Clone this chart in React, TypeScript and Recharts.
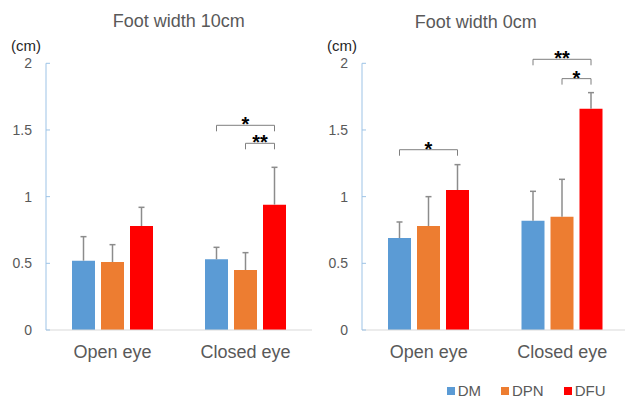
import React from 'react';
import { BarChart, Bar, XAxis, YAxis, Legend, LabelList } from 'recharts';

// ---------- data ----------
const categories = ['Open eye', 'Closed eye'];
const seriesNames = ['DM', 'DPN', 'DFU'];
const seriesColors = ['#5B9BD5', '#ED7D31', '#FF0000'];
const yTicks = [0, 0.5, 1, 1.5, 2];

// Foot width 10cm
const w10DM = [0.52, 0.53];
const w10DMsd = [0.18, 0.09];
const w10DPN = [0.51, 0.45];
const w10DPNsd = [0.13, 0.13];
const w10DFU = [0.78, 0.94];
const w10DFUsd = [0.14, 0.28];

// Foot width 0cm
const w0DM = [0.69, 0.82];
const w0DMsd = [0.12, 0.22];
const w0DPN = [0.78, 0.85];
const w0DPNsd = [0.22, 0.28];
const w0DFU = [1.05, 1.66];
const w0DFUsd = [0.19, 0.12];

// significance brackets: category index, from series, to series, level (cm), mark
const w10Sig = [
  { cat: 1, from: 0, to: 2, level: 1.535, mark: '*' },
  { cat: 1, from: 1, to: 2, level: 1.4, mark: '**' },
];
const w0Sig = [
  { cat: 0, from: 0, to: 2, level: 1.352, mark: '*' },
  { cat: 1, from: 0, to: 2, level: 2.03, mark: '**' },
  { cat: 1, from: 1, to: 2, level: 1.885, mark: '*' },
];

// ---------- styling ----------
const BAR_SIZE = 23;
const BAR_GAP = 6;
const FONT = '"Liberation Sans", Arial, Helvetica, sans-serif';
const TEXT_GRAY = '#595959';
const ERR_GRAY = '#8c8c8c';
const AXIS_BLUE = '#9DC3E6';

type Sig = { cat: number; from: number; to: number; level: number; mark: string };

function buildRows(means: number[][], sds: number[][]) {
  return categories.map((c, i) => {
    const row: any = { category: c };
    seriesNames.forEach((s, k) => {
      row[s] = means[k][i];
      row[s + 'sd'] = sds[k][i];
    });
    return row;
  });
}

function makeAnnot(rows: any[], seriesIdx: number, sigs: Sig[]) {
  const name = seriesNames[seriesIdx];
  return (props: any) => {
    const vb = props.viewBox || props;
    const x = Number(vb.x);
    const y = Number(vb.y);
    const width = Number(vb.width);
    const height = Number(vb.height);
    const index = props.index;
    if (!isFinite(x) || !isFinite(y) || index == null) return null;
    const row = rows[index];
    const value = row[name];
    const sd = row[name + 'sd'];
    const ppu = height / value;
    const base = y + height;
    const cx = x + width / 2;
    const yErr = base - (value + sd) * ppu;
    const mine = sigs.filter((s) => s.cat === index && s.to === seriesIdx);
    return (
      <g key={'annot-' + index}>
        <line x1={cx} y1={y} x2={cx} y2={yErr} stroke={ERR_GRAY} strokeWidth={1.5} />
        <line x1={cx - 3} y1={yErr} x2={cx + 3} y2={yErr} stroke={ERR_GRAY} strokeWidth={1.5} />
        {mine.map((s, j) => {
          const x2 = cx;
          const x1 = cx - (s.to - s.from) * (BAR_SIZE + BAR_GAP);
          const by = base - s.level * ppu;
          return (
            <g key={j}>
              <path
                d={`M${x1},${by + 6}L${x1},${by}L${x2},${by}L${x2},${by + 6}`}
                fill="none"
                stroke="#7f7f7f"
                strokeWidth={1}
              />
              <text
                x={(x1 + x2) / 2}
                y={by + 6}
                textAnchor="middle"
                fontSize={20}
                fontWeight="bold"
                fill="#000"
                fontFamily={FONT}
              >
                {s.mark}
              </text>
            </g>
          );
        })}
      </g>
    );
  };
}

const renderLegend = (props: any) => {
  const payload = [...(props.payload || [])].sort(
    (a: any, b: any) => seriesNames.indexOf(a.value) - seriesNames.indexOf(b.value)
  );
  return (
    <div style={{ display: 'flex', alignItems: 'center', fontSize: 15, lineHeight: '14px', color: TEXT_GRAY, fontFamily: FONT, whiteSpace: 'nowrap' }}>
      {payload.map((p: any, i: number) => (
        <span key={i} style={{ display: 'flex', alignItems: 'center', marginRight: 20 }}>
          <span style={{ display: 'inline-block', width: 8, height: 8, background: p.color, marginRight: 3 }} />
          {p.value}
        </span>
      ))}
    </div>
  );
};

function Panel(props: { rows: any[]; sigs: Sig[]; marginRight: number; legend?: boolean }) {
  const { rows, sigs, marginRight, legend } = props;
  return (
    <BarChart
      width={320}
      height={398}
      data={rows}
      margin={{ top: 63.3, right: marginRight, bottom: 38, left: 6 }}
      barGap={BAR_GAP}
    >
      <XAxis
        dataKey="category"
        height={30}
        stroke="#d9d9d9"
        tickLine={false}
        tickSize={0}
        tickMargin={15}
        tick={{ fill: TEXT_GRAY, fontSize: 18, fontFamily: FONT }}
      />
      <YAxis
        width={40}
        domain={[0, 2]}
        ticks={yTicks}
        interval={0}
        stroke={AXIS_BLUE}
        tickSize={-4}
        tickMargin={18}
        tick={{ fill: TEXT_GRAY, fontSize: 14, fontFamily: FONT }}
        label={{ value: '(cm)', position: 'top', offset: 12, fill: '#262626', fontSize: 15, fontFamily: FONT }}
      />
      {seriesNames.map((s, k) => (
        <Bar key={s} dataKey={s} name={s} fill={seriesColors[k]} barSize={BAR_SIZE} isAnimationActive={false}>
          <LabelList dataKey={s} content={makeAnnot(rows, k, sigs)} />
        </Bar>
      ))}
      {legend ? (
        <Legend
          layout="horizontal"
          verticalAlign="middle"
          align="center"
          content={renderLegend}
          wrapperStyle={{ left: 130.7, top: 384, width: 'auto', height: 'auto' }}
        />
      ) : null}
    </BarChart>
  );
}

const rows10 = buildRows([w10DM, w10DPN, w10DFU], [w10DMsd, w10DPNsd, w10DFUsd]);
const rows0 = buildRows([w0DM, w0DPN, w0DFU], [w0DMsd, w0DPNsd, w0DFUsd]);

const titleStyle: React.CSSProperties = {
  position: 'absolute',
  transform: 'translateX(-50%)',
  fontSize: 18,
  lineHeight: '20px',
  color: TEXT_GRAY,
  whiteSpace: 'nowrap',
  fontFamily: FONT,
};

export default function App() {
  return (
    <div
      style={{
        position: 'fixed',
        left: 0,
        top: 0,
        width: 625,
        height: 398,
        overflow: 'hidden',
        background: '#fff',
        fontFamily: FONT,
      }}
    >
      <div style={{ ...titleStyle, left: 178.7, top: 11 }}>Foot width 10cm</div>
      <div style={{ ...titleStyle, left: 475.7, top: 12.4 }}>Foot width 0cm</div>
      <div style={{ position: 'absolute', left: 0, top: 0 }}>
        <Panel rows={rows10} sigs={w10Sig} marginRight={8} />
      </div>
      <div style={{ position: 'absolute', left: 316, top: 0 }}>
        <Panel rows={rows0} sigs={w0Sig} marginRight={7} legend />
      </div>
    </div>
  );
}
